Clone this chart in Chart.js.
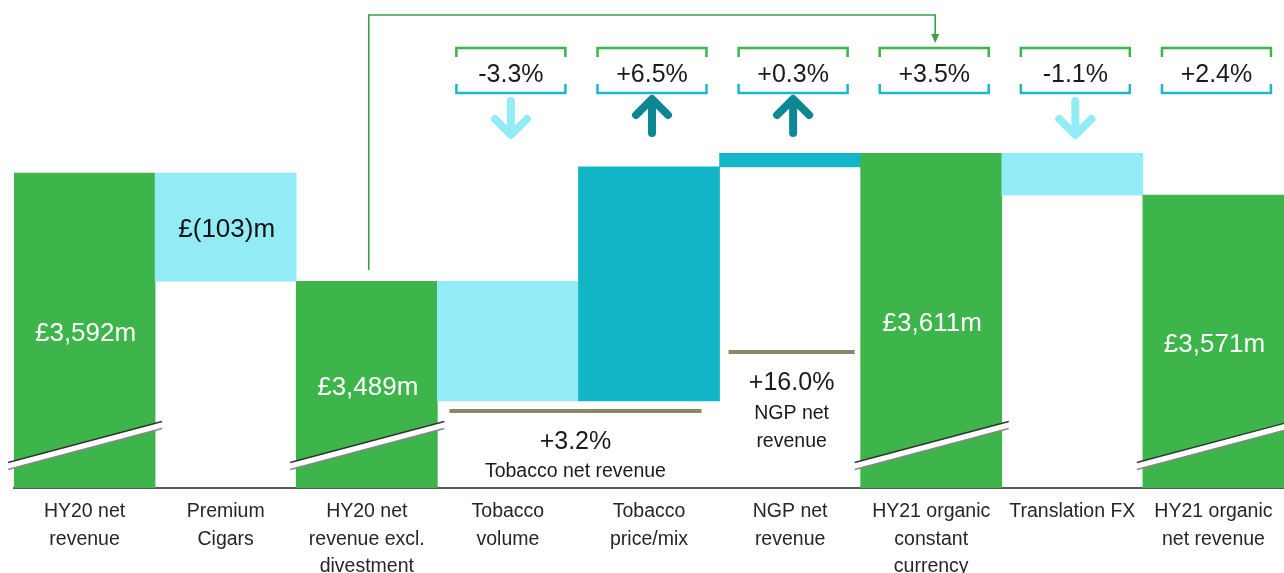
<!DOCTYPE html>
<html>
<head>
<meta charset="utf-8">
<script src="https://cdn.jsdelivr.net/npm/chart.js@4"></script>
<style>
  html, body { margin: 0; padding: 0; background: #fff; }
  #wrap { width: 1284px; height: 573px; overflow: hidden; }
</style>
</head>
<body>
<div id="wrap"><canvas id="bridge" width="1284" height="573"></canvas></div>
<script>
// ── data ──
const categories = [
  ['HY20 net', 'revenue'], ['Premium', 'Cigars'], ['HY20 net', 'revenue excl.', 'divestment'],
  ['Tobacco', 'volume'], ['Tobacco', 'price/mix'], ['NGP net', 'revenue'],
  ['HY21 organic', 'constant', 'currency'], ['Translation FX'], ['HY21 organic', 'net revenue']
];
const barStart = [3292, 3489, 3292, 3375, 3375, 3598, 3292, 3571, 3292];
const barEnd   = [3592, 3592, 3489, 3489, 3598, 3611, 3611, 3611, 3571];
const barKind  = ['total', 'down', 'total', 'down', 'up', 'up', 'total', 'down', 'total'];
const barLabels = ['£3,592m', '£(103)m', '£3,489m', '', '', '', '£3,611m', '', '£3,571m'];
const changeLabels = ['', '', '', '-3.3%', '+6.5%', '+0.3%', '+3.5%', '-1.1%', '+2.4%'];
const changeArrows = ['', '', '', 'down', 'up', 'up', '', 'down', ''];
const axisMin = 3292, axisMax = 3757;

const GREEN = '#3db54a', LIGHT = '#93ecf5', TEAL = '#12b6c6', DARKTEAL = '#0d8893';
const FONT = '"Liberation Sans", Arial, sans-serif';
const colorFor = k => k === 'total' ? GREEN : (k === 'down' ? LIGHT : TEAL);

// ── overlay: labels, break marks, annotation boxes, arrows ──
const overlay = {
  id: 'overlay',
  afterDatasetsDraw(chart) {
    const { ctx, scales: { x, y } } = chart;
    const meta = chart.getDatasetMeta(0);
    const bottom = chart.chartArea.bottom;
    ctx.save();

    // axis break marks on total bars
    meta.data.forEach((bar, i) => {
      if (barKind[i] !== 'total') return;
      const x0 = bar.x - bar.width / 2 - 6, x1 = bar.x + bar.width / 2 + 7;
      const yl = bottom - 22, yr = bottom - 63;
      ctx.lineCap = 'butt';
      ctx.strokeStyle = '#fff'; ctx.lineWidth = 6;
      ctx.beginPath(); ctx.moveTo(x0, yl); ctx.lineTo(x1, yr); ctx.stroke();
      ctx.lineWidth = 1.3; ctx.strokeStyle = '#333';
      ctx.beginPath(); ctx.moveTo(x0, yl - 3.5); ctx.lineTo(x1, yr - 3.5); ctx.stroke();
      ctx.strokeStyle = '#888';
      ctx.beginPath(); ctx.moveTo(x0, yl + 3.5); ctx.lineTo(x1, yr + 3.5); ctx.stroke();
    });

    // value labels inside bars
    ctx.textAlign = 'center'; ctx.textBaseline = 'middle';
    ctx.font = '26px ' + FONT;
    meta.data.forEach((bar, i) => {
      if (!barLabels[i]) return;
      ctx.fillStyle = barKind[i] === 'total' ? '#fff' : '#111';
      ctx.fillText(barLabels[i], bar.x + 1, (bar.y + bar.base) / 2 + 3);
    });

    // change boxes + arrows
    changeLabels.forEach((lbl, i) => {
      if (!lbl) return;
      const cx = x.getPixelForValue(i) + 3, w = 109, top = 48, bot = 93, leg = 9;
      ctx.lineWidth = 2.5; ctx.lineCap = 'butt'; ctx.lineJoin = 'miter';
      ctx.strokeStyle = GREEN;
      ctx.beginPath();
      ctx.moveTo(cx - w / 2, top + leg); ctx.lineTo(cx - w / 2, top);
      ctx.lineTo(cx + w / 2, top); ctx.lineTo(cx + w / 2, top + leg); ctx.stroke();
      ctx.strokeStyle = '#1bb8c9';
      ctx.beginPath();
      ctx.moveTo(cx - w / 2, bot - leg); ctx.lineTo(cx - w / 2, bot);
      ctx.lineTo(cx + w / 2, bot); ctx.lineTo(cx + w / 2, bot - leg); ctx.stroke();
      ctx.fillStyle = '#1a1a1a'; ctx.font = '25px ' + FONT;
      ctx.fillText(lbl, cx, 75);

      const dir = changeArrows[i];
      if (!dir) return;
      ctx.lineWidth = 8; ctx.lineCap = 'round'; ctx.lineJoin = 'round';
      ctx.strokeStyle = dir === 'down' ? LIGHT : DARKTEAL;
      ctx.beginPath();
      if (dir === 'down') {
        ctx.moveTo(cx, 101); ctx.lineTo(cx, 134);
        ctx.moveTo(cx - 16, 119); ctx.lineTo(cx, 135); ctx.lineTo(cx + 16, 119);
      } else {
        ctx.moveTo(cx, 133); ctx.lineTo(cx, 100);
        ctx.moveTo(cx - 16, 115); ctx.lineTo(cx, 99); ctx.lineTo(cx + 16, 115);
      }
      ctx.stroke();
    });

    // connector from HY20 excl. to HY21 constant currency box
    const ax = x.getPixelForValue(2) + 2, bx = x.getPixelForValue(6) + 4;
    ctx.strokeStyle = '#3a9f45'; ctx.lineWidth = 1.6; ctx.lineCap = 'butt'; ctx.lineJoin = 'miter';
    ctx.beginPath();
    ctx.moveTo(ax, 270); ctx.lineTo(ax, 15); ctx.lineTo(bx, 15); ctx.lineTo(bx, 36);
    ctx.stroke();
    ctx.fillStyle = '#3a9f45';
    ctx.beginPath(); ctx.moveTo(bx - 4, 34); ctx.lineTo(bx + 4, 34); ctx.lineTo(bx, 43); ctx.closePath(); ctx.fill();

    // tobacco / NGP subtotal brackets
    const catW = x.getPixelForValue(1) - x.getPixelForValue(0);
    const volBottom = y.getPixelForValue(barStart[3]);
    ctx.strokeStyle = '#8b8868'; ctx.lineWidth = 4;
    const l1a = x.getPixelForValue(3) - catW / 2 + 12, l1b = x.getPixelForValue(4) + catW / 2 - 18;
    ctx.beginPath(); ctx.moveTo(l1a, volBottom + 10); ctx.lineTo(l1b, volBottom + 10); ctx.stroke();
    const l2a = x.getPixelForValue(5) - catW / 2 + 9, l2b = x.getPixelForValue(5) + catW / 2 - 6;
    ctx.beginPath(); ctx.moveTo(l2a, volBottom - 49); ctx.lineTo(l2b, volBottom - 49); ctx.stroke();

    ctx.fillStyle = '#1a1a1a';
    const tx = (l1a + l1b) / 2;
    ctx.font = '25px ' + FONT; ctx.fillText('+3.2%', tx, volBottom + 41);
    ctx.font = '19.5px ' + FONT; ctx.fillText('Tobacco net revenue', tx, volBottom + 71);
    const nx = (l2a + l2b) / 2;
    ctx.font = '25px ' + FONT; ctx.fillText('+16.0%', nx, volBottom - 18);
    ctx.font = '19.5px ' + FONT; ctx.fillText('NGP net', nx, volBottom + 13);
    ctx.fillText('revenue', nx, volBottom + 41);

    ctx.restore();
  }
};

new Chart(document.getElementById('bridge'), {
  type: 'bar',
  data: {
    labels: categories,
    datasets: [{
      data: barStart.map((s, i) => [s, barEnd[i]]),
      backgroundColor: barKind.map(colorFor),
      borderWidth: 0,
      barPercentage: 1,
      categoryPercentage: 1
    }]
  },
  options: {
    responsive: false,
    animation: false,
    devicePixelRatio: 1,
    layout: { padding: { left: 14, right: 0, top: 0, bottom: 0 } },
    plugins: { legend: { display: false }, tooltip: { enabled: false } },
    scales: {
      y: { display: false, min: axisMin, max: axisMax },
      x: {
        grid: { display: false, drawTicks: false, tickLength: 0 },
        border: { display: true, color: '#595959', width: 2 },
        ticks: {
          color: '#262626', padding: 10, maxRotation: 0, autoSkip: false,
          font: { family: FONT, size: 19.5, lineHeight: 27.5 / 19.5 }
        },
        afterFit: s => { s.height = 85; }
      }
    }
  },
  plugins: [overlay]
});
</script>
</body>
</html>
